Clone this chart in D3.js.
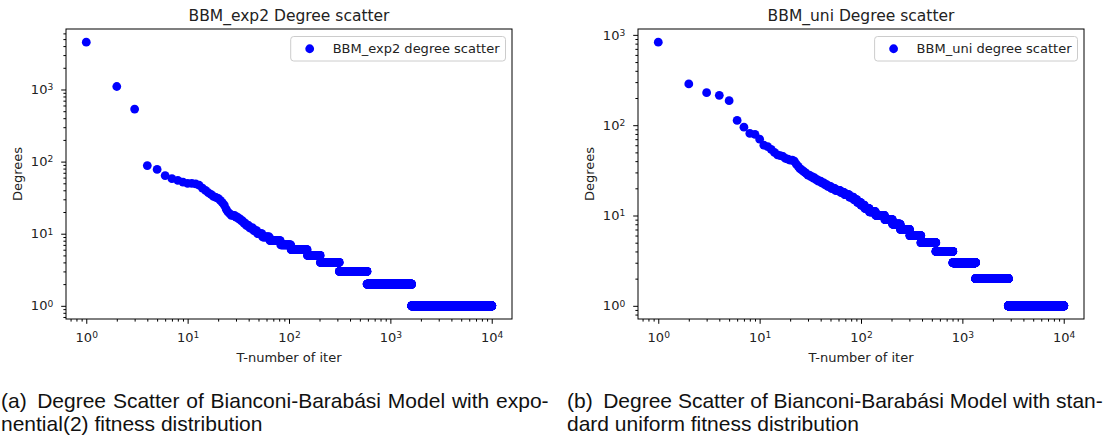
<!DOCTYPE html>
<html>
<head>
<meta charset="utf-8">
<script src="https://cdn.jsdelivr.net/npm/d3@7"></script>
<style>
  html, body { margin: 0; padding: 0; background: #fff; }
  svg { display: block; }
</style>
</head>
<body>
<svg id="chart" width="1112" height="439"></svg>
<script>
// ---- Data: node degrees sorted from the largest, indexed by rank (T) ----
// Exponential(2) fitness run: highest-ranked nodes one by one ...
const expTopDegrees = [4530, 1100, 535, 88, 78, 64, 58, 55, 52, 50, 50, 49, 47, 43, 40, 37,
  35, 33, 32, 31, 29, 27, 25, 22, 20, 19, 18, 18, 18, 17, 17, 16, 16, 15, 15, 14, 14, 13, 13,
  13, 12, 12, 12, 12, 11, 11, 11, 11];
// ... then the rest as runs of equal degree (degree, last rank of that run)
const expRunDegrees = [10, 9, 8, 7, 6, 5, 4, 3, 2, 1];
const expRunLastRank = [54, 64, 82, 104, 151, 203, 313, 588, 1620, 10000];

// Standard uniform fitness run
const uniTopDegrees = [830, 286, 229, 214, 187, 113, 95, 81, 79, 70, 60, 58, 54, 50, 47, 46,
  45, 43, 42, 41, 41, 40, 37, 35, 33, 32, 31, 30, 29, 28, 28, 27, 27, 26, 26, 25, 25, 24, 24,
  24, 23, 23, 23, 22, 22, 22, 21, 21, 21, 21, 20, 20, 20, 20, 20];
const uniRunDegrees = [19, 18, 17, 16, 15, 14, 13, 12, 11, 10, 9, 8, 7, 6, 5, 4, 3, 2, 1];
const uniRunLastRank = [62, 68, 76, 84, 91, 99, 108, 120, 139, 171, 204, 244, 302, 389, 547,
  805, 1351, 2839, 10000];

// Tick exponents shown on the log x axes
const xTickExponents = [0, 1, 2, 3, 4];

const titles = ["BBM_exp2 Degree scatter", "BBM_uni Degree scatter"];
const legendLabels = ["BBM_exp2 degree scatter", "BBM_uni degree scatter"];
const xLabel = "T-number of iter";
const yLabel = "Degrees";
const captions = [
  ["(a)\u2002Degree Scatter of Bianconi-Barabási Model with expo-", "nential(2) fitness distribution"],
  ["(b)\u2002Degree Scatter of Bianconi-Barabási Model with stan-", "dard uniform fitness distribution"]
];

// ---- Layout ----
const layout = [
  { left: 66, captionX: 1, captionWordSpacing: 1.0 },
  { left: 638, captionX: 567, captionWordSpacing: 0 }
];
const plotTop = 29, plotW = 446, plotH = 290;
const tickFont = "'DejaVu Sans', sans-serif";
const captionFont = "'Liberation Sans', Arial, sans-serif";
const textColor = "#222";
const dotColor = "#0000ff";
const dotR = 4.4;

// Expand top list + run lengths into (rank, degree) points
function expand(top, runDeg, runLast) {
  const pts = top.map((d, i) => ({ rank: i + 1, degree: d }));
  let rank = top.length + 1;
  runDeg.forEach((deg, i) => {
    for (; rank <= runLast[i]; rank++) pts.push({ rank, degree: deg });
  });
  return pts;
}

// Log-space autoscale with 5% margins on each side
function logDomain(values) {
  const lo = Math.log10(d3.min(values)), hi = Math.log10(d3.max(values));
  const pad = 0.05 * (hi - lo);
  return [Math.pow(10, lo - pad), Math.pow(10, hi + pad)];
}

function minorTicks(domain) {
  const out = [];
  const k0 = Math.floor(Math.log10(domain[0])), k1 = Math.ceil(Math.log10(domain[1]));
  for (let k = k0; k <= k1; k++)
    for (let m = 2; m <= 9; m++) {
      const v = m * Math.pow(10, k);
      if (v >= domain[0] && v <= domain[1]) out.push(v);
    }
  return out;
}

function majorTicks(domain) {
  const out = [];
  const k0 = Math.ceil(Math.log10(domain[0]) - 1e-9), k1 = Math.floor(Math.log10(domain[1]) + 1e-9);
  for (let k = k0; k <= k1; k++) out.push(Math.pow(10, k));
  return out;
}

function powerLabels(sel) {
  sel.selectAll(".tick text").each(function (d) {
    const t = d3.select(this);
    t.text(null);
    t.append("tspan").text("10");
    t.append("tspan").attr("dy", "-0.42em").attr("font-size", "0.7em")
      .text(Math.round(Math.log10(d)));
  });
}

const svg = d3.select("#chart");
const datasets = [
  expand(expTopDegrees, expRunDegrees, expRunLastRank),
  expand(uniTopDegrees, uniRunDegrees, uniRunLastRank)
];

datasets.forEach((pts, p) => {
  const L = layout[p];
  const g = svg.append("g").attr("transform", `translate(${L.left},${plotTop})`);

  const x = d3.scaleLog().domain(logDomain(pts.map(d => d.rank))).range([0, plotW]);
  const y = d3.scaleLog().domain(logDomain(pts.map(d => d.degree))).range([plotH, 0]);

  // points
  g.append("g").selectAll("circle").data(pts).join("circle")
    .attr("cx", d => x(d.rank)).attr("cy", d => y(d.degree))
    .attr("r", dotR).attr("fill", dotColor);

  // x axis: minor + major ticks
  const xMajor = xTickExponents.map(e => Math.pow(10, e));
  g.append("g").attr("transform", `translate(0,${plotH})`)
    .call(d3.axisBottom(x).tickValues(minorTicks(x.domain())).tickSize(2.6).tickFormat(""))
    .call(a => a.select(".domain").remove());
  const gx = g.append("g").attr("transform", `translate(0,${plotH})`)
    .call(d3.axisBottom(x).tickValues(xMajor).tickSize(4.8).tickPadding(9));
  gx.select(".domain").remove();
  powerLabels(gx);

  // y axis
  g.append("g")
    .call(d3.axisLeft(y).tickValues(minorTicks(y.domain())).tickSize(2.6).tickFormat(""))
    .call(a => a.select(".domain").remove());
  const gy = g.append("g")
    .call(d3.axisLeft(y).tickValues(majorTicks(y.domain())).tickSize(4.8).tickPadding(8));
  gy.select(".domain").remove();
  powerLabels(gy);

  g.selectAll(".tick line").attr("stroke", "#000").attr("stroke-width", 1);
  g.selectAll(".tick text").attr("font-family", tickFont).attr("font-size", 13).attr("fill", textColor);

  // frame
  g.append("rect").attr("x", 0).attr("y", 0).attr("width", plotW).attr("height", plotH)
    .attr("fill", "none").attr("stroke", "#000").attr("stroke-width", 1);

  // title and axis labels
  g.append("text").attr("x", plotW / 2).attr("y", -8.5).attr("text-anchor", "middle")
    .attr("font-family", tickFont).attr("font-size", 15.5).attr("fill", textColor)
    .text(titles[p]);
  g.append("text").attr("x", plotW / 2).attr("y", plotH + 43).attr("text-anchor", "middle")
    .attr("font-family", tickFont).attr("font-size", 13).attr("fill", textColor)
    .text(xLabel);
  g.append("text").attr("transform", `translate(${-44},${plotH / 2}) rotate(-90)`)
    .attr("text-anchor", "middle")
    .attr("font-family", tickFont).attr("font-size", 13).attr("fill", textColor)
    .text(yLabel);

  // legend
  const lg = g.append("g");
  const lt = lg.append("text").attr("font-family", tickFont).attr("font-size", 13)
    .attr("fill", textColor).text(legendLabels[p]);
  const tw = lt.node().getComputedTextLength();
  const boxW = 42 + tw + 6, boxH = 24.5;
  const boxX = plotW - 6.5 - boxW, boxY = 7.5;
  lg.insert("rect", "text").attr("x", boxX).attr("y", boxY).attr("width", boxW).attr("height", boxH)
    .attr("rx", 3).attr("fill", "#fff").attr("fill-opacity", 0.8)
    .attr("stroke", "#cccccc").attr("stroke-width", 1);
  lg.append("circle").attr("cx", boxX + 19).attr("cy", boxY + boxH / 2).attr("r", dotR)
    .attr("fill", dotColor);
  lt.attr("x", boxX + 42).attr("y", boxY + boxH / 2 + 4.6);

  // caption below the panel
  captions[p].forEach((line, i) => {
    svg.append("text").attr("x", L.captionX).attr("y", 408 + i * 23)
      .attr("font-family", captionFont).attr("font-size", 21).attr("fill", "#111")
      .attr("word-spacing", i === 0 ? L.captionWordSpacing : 0)
      .text(line);
  });
});
</script>
</body>
</html>
